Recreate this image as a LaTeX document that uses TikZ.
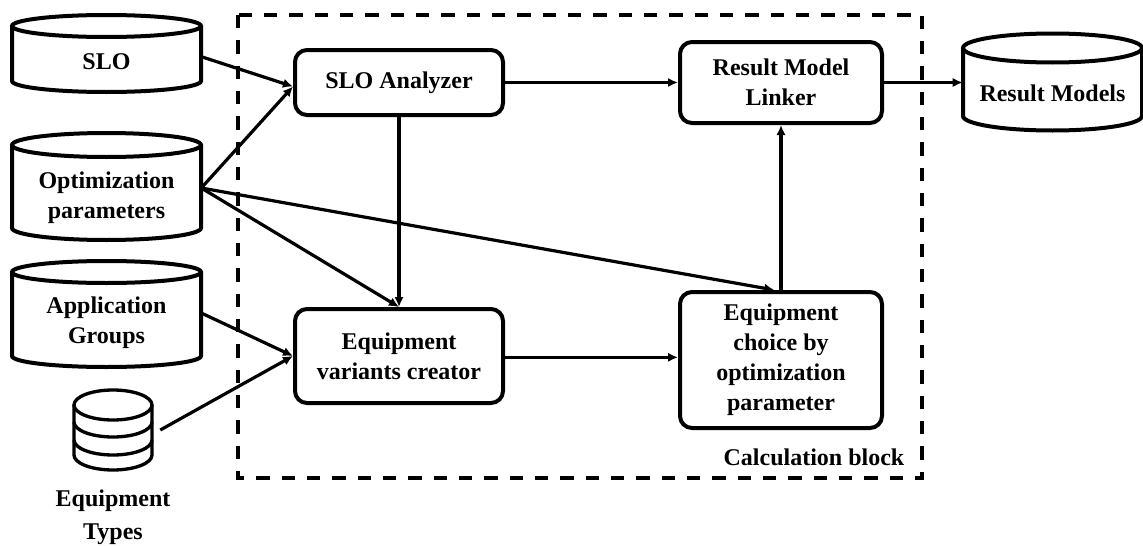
\documentclass[tikz,border=0pt]{standalone}
\usepackage{fontspec}
\setmainfont{Liberation Serif}
\usetikzlibrary{arrows.meta}

% Cylinder (database) symbol with a named text node over its body.
% #1 name, #2 left x, #3 right x, #4 top ellipse centre y, #5 bottom ellipse centre y,
% #6 ellipse y radius, #7 text centre y, #8 text
\newcommand{\dbcyl}[8]{%
  \draw[cylline] (#2,-#4) -- (#2,-#5)
    arc[start angle=180, end angle=360, x radius={(#3-#2)/2}, y radius=#6] -- (#3,-#4);
  \draw[cylline] ({(#2+#3)/2},-#4) ellipse[x radius={(#3-#2)/2}, y radius=#6];
  \node[cyltext, minimum width={(#3-#2)*0.75pt}] (#1) at ({(#2+#3)/2},-#7) {#8};
}

\begin{document}
\begin{tikzpicture}[
    x=0.75pt, y=0.75pt,
    every node/.style={font=\fontsize{18}{22.5}\selectfont\bfseries},
    procbox/.style={draw, line width=3pt, rounded corners=9pt, align=center, inner sep=0pt},
    cylline/.style={line width=3pt},
    cyltext/.style={align=center, inner sep=0pt, minimum height=30pt},
    iconline/.style={line width=2.5pt},
    flow/.style={line width=2.4pt, -{Latex[length=7.5pt,width=7pt]}},
    calcframe/.style={line width=2.6pt, dash pattern=on 10pt off 9pt}
  ]
  \useasboundingbox (0,0) rectangle (1143,-546);

  % calculation block frame
  \draw[calcframe] (238,-15) rectangle (922,-478);
  \node[anchor=base east] (calc) at (909,-465) {Calculation block};

  % data stores
  \dbcyl{slo}{12}{201}{26}{81}{11}{62}{SLO}
  \dbcyl{opt}{12}{201}{145}{228}{12}{198}{Optimization\\parameters}
  \dbcyl{app}{12}{201}{272}{356}{11}{323}{Application\\Groups}
  \dbcyl{res}{963}{1142}{48}{116}{14.5}{93}{Result Models}

  % equipment types icon (stacked disks)
  \draw[iconline] (113,-405) ellipse[x radius=39, y radius=15];
  \draw[iconline] (74,-405) -- (74,-455)
    arc[start angle=180, end angle=360, x radius=39, y radius=15] -- (152,-405);
  \draw[iconline] (74,-422) arc[start angle=180, end angle=360, x radius=39, y radius=15];
  \draw[iconline] (74,-440) arc[start angle=180, end angle=360, x radius=39, y radius=15];
  \node[minimum width=58.5pt, minimum height=60pt, inner sep=0pt] (eqt) at (113,-430) {};
  \node[align=center, font=\fontsize{18}{24.5}\selectfont\bfseries] (eqtlabel) at (113,-517) {Equipment\\Types};

  % processing blocks
  \node[procbox, minimum width=156pt, minimum height=48.75pt] (ana) at (399,-82.5) {SLO Analyzer};
  \node[procbox, minimum width=151.5pt, minimum height=60.75pt] (lnk) at (781,-82.5) {Result Model\\Linker};
  \node[procbox, minimum width=156pt, minimum height=70.5pt] (var) at (399,-356) {Equipment\\variants creator};
  \node[procbox, minimum width=151.5pt, minimum height=102pt] (cho) at (781,-360) {Equipment\\choice by\\optimization\\parameter};

  % connectors
  \draw[flow] ([yshift=4pt]slo.east) -- ([yshift=-3pt]ana.west);
  \draw[flow] ([yshift=7.5pt]opt.east) -- ([yshift=-3pt]ana.west);
  \draw[flow] ([yshift=7.5pt]opt.east) -- (var.north);
  \draw[flow] ([yshift=7.5pt]opt.east) -- ([xshift=-5pt]cho.north);
  \draw[flow] (ana.south) -- (var.north);
  \draw[flow] (ana.east) -- (lnk.west);
  \draw[flow] ([yshift=-1pt]var.east) -- ([yshift=-1pt]var.east -| cho.west);
  \draw[flow] (cho.north) -- (lnk.south);
  \draw[flow] (lnk.east) -- (lnk.east -| res.west);
  \draw[flow] ([yshift=7.5pt]app.east) -- (var.west);
  \draw[flow] ([xshift=6pt]eqt.east) -- (var.west);
\end{tikzpicture}
\end{document}
